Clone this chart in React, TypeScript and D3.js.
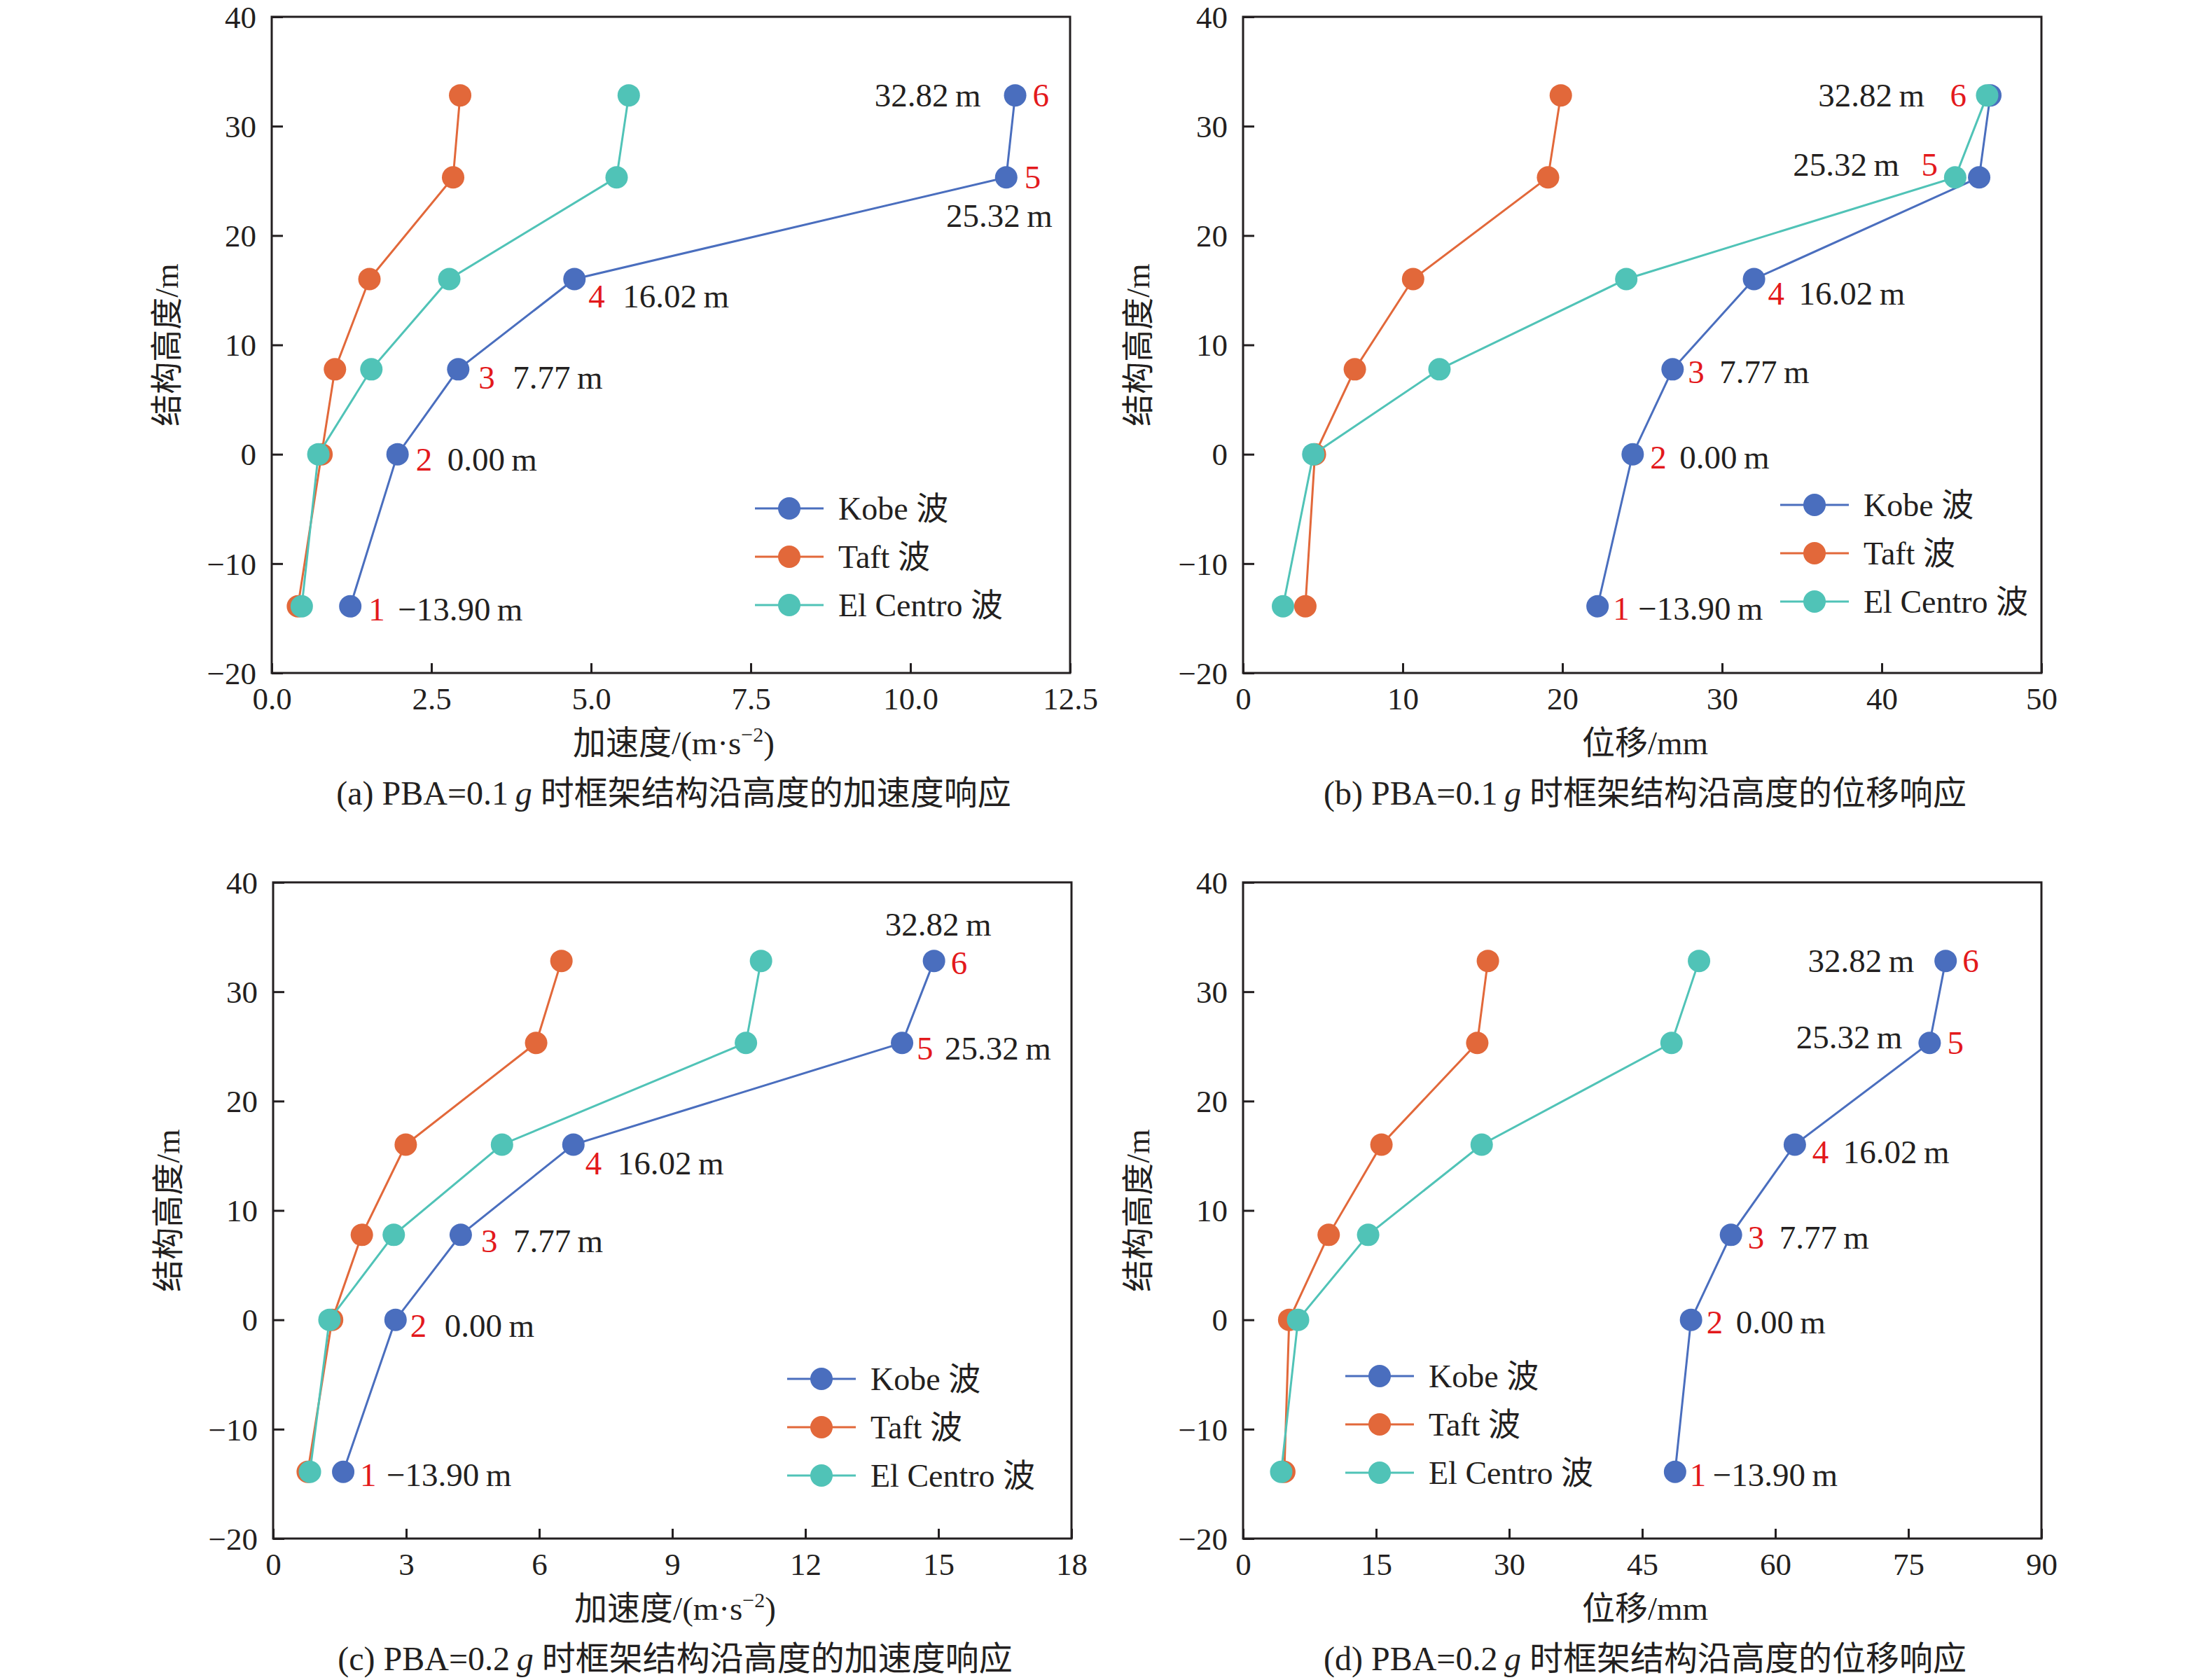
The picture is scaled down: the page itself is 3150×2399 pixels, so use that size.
import React, { useRef, useEffect } from 'react';
import * as d3 from 'd3';

// storey heights and labels
const heights = [-13.9, 0, 7.77, 16.02, 25.32, 32.82];
const heightLabels = ['−13.90\u2009m', '0.00\u2009m', '7.77\u2009m', '16.02\u2009m', '25.32\u2009m', '32.82\u2009m'];
const floorNumbers = ['1', '2', '3', '4', '5', '6'];
const seriesNames = ['Kobe 波', 'Taft 波', 'El Centro 波'];
const yTicks = [-20, -10, 0, 10, 20, 30, 40];

// (a) PBA=0.1g acceleration, m/s^2
const accel01Kobe = [1.23, 1.97, 2.92, 4.74, 11.5, 11.64];
const accel01Taft = [0.41, 0.78, 0.99, 1.53, 2.84, 2.95];
const accel01ElCentro = [0.47, 0.73, 1.56, 2.78, 5.4, 5.59];
// (b) PBA=0.1g displacement, mm
const disp01Kobe = [22.2, 24.4, 26.9, 32.0, 46.1, 46.8];
const disp01Taft = [3.9, 4.5, 7.0, 10.65, 19.1, 19.9];
const disp01ElCentro = [2.5, 4.4, 12.3, 24.0, 44.6, 46.6];
// (c) PBA=0.2g acceleration
const accel02Kobe = [1.58, 2.76, 4.23, 6.77, 14.18, 14.9];
const accel02Taft = [0.78, 1.33, 2.0, 2.99, 5.93, 6.5];
const accel02ElCentro = [0.83, 1.27, 2.72, 5.16, 10.66, 11.0];
// (d) PBA=0.2g displacement
const disp02Kobe = [48.7, 50.5, 55.0, 62.2, 77.4, 79.2];
const disp02Taft = [4.65, 5.2, 9.65, 15.6, 26.4, 27.6];
const disp02ElCentro = [4.3, 6.2, 14.1, 26.9, 48.3, 51.4];

const xTicksA = [0, 2.5, 5, 7.5, 10, 12.5];
const xTicksB = [0, 10, 20, 30, 40, 50];
const xTicksC = [0, 3, 6, 9, 12, 15, 18];
const xTicksD = [0, 15, 30, 45, 60, 75, 90];

const colors = ['#4A6EBE', '#E2683A', '#50C3B7'];
const RED = '#E3191C';
const INK = '#231F20';
const SERIF = '"Liberation Serif", "Times New Roman", "Noto Sans CJK SC", serif';

const W = 3150;
const H = 2399;
const PW = 1140;
const PH = 937;

type Ann = { n: [number, number, string]; l: [number, number, string] };

// label offsets (px) from each Kobe point: red number and height text
const annA: Ann[] = [
  { n: [26, 20, 'start'], l: [68, 20, 'start'] },
  { n: [26, 23, 'start'], l: [71, 23, 'start'] },
  { n: [29, 28, 'start'], l: [78, 28, 'start'] },
  { n: [20, 41, 'start'], l: [69, 41, 'start'] },
  { n: [26, 16, 'start'], l: [66, 71, 'end'] },
  { n: [25, 16, 'start'], l: [-49, 16, 'end'] },
];
const annB: Ann[] = [
  { n: [22, 19, 'start'], l: [58, 19, 'start'] },
  { n: [25, 20, 'start'], l: [67, 20, 'start'] },
  { n: [22, 20, 'start'], l: [67, 20, 'start'] },
  { n: [20, 37, 'start'], l: [64, 37, 'start'] },
  { n: [-59, -2, 'end'], l: [-114, -2, 'end'] },
  { n: [-34, 16, 'end'], l: [-94, 16, 'end'] },
];
const annC: Ann[] = [
  { n: [24, 20, 'start'], l: [62, 20, 'start'] },
  { n: [21, 24, 'start'], l: [70, 24, 'start'] },
  { n: [29, 25, 'start'], l: [75, 25, 'start'] },
  { n: [17, 43, 'start'], l: [63, 43, 'start'] },
  { n: [21, 24, 'start'], l: [61, 24, 'start'] },
  { n: [24, 19, 'start'], l: [6, -36, 'middle'] },
];
const annD: Ann[] = [
  { n: [21, 20, 'start'], l: [54, 20, 'start'] },
  { n: [22, 19, 'start'], l: [64, 19, 'start'] },
  { n: [24, 20, 'start'], l: [69, 20, 'start'] },
  { n: [25, 27, 'start'], l: [69, 27, 'start'] },
  { n: [25, 16, 'start'], l: [-39, 8, 'end'] },
  { n: [24, 16, 'start'], l: [-45, 16, 'end'] },
];

const panels = [
  {
    left: 388, top: 24, xMax: 12.5, xTicks: xTicksA, fmt: d3.format('.1f'), accel: true,
    series: [accel01Kobe, accel01Taft, accel01ElCentro], ann: annA,
    legend: [690, 702], tag: '(a)', pba: '0.1', tail: '时框架结构沿高度的加速度响应',
  },
  {
    left: 1775, top: 24, xMax: 50, xTicks: xTicksB, fmt: d3.format('d'), accel: false,
    series: [disp01Kobe, disp01Taft, disp01ElCentro], ann: annB,
    legend: [767, 697], tag: '(b)', pba: '0.1', tail: '时框架结构沿高度的位移响应',
  },
  {
    left: 390, top: 1260, xMax: 18, xTicks: xTicksC, fmt: d3.format('d'), accel: true,
    series: [accel02Kobe, accel02Taft, accel02ElCentro], ann: annC,
    legend: [734, 709], tag: '(c)', pba: '0.2', tail: '时框架结构沿高度的加速度响应',
  },
  {
    left: 1775, top: 1260, xMax: 90, xTicks: xTicksD, fmt: d3.format('d'), accel: false,
    series: [disp02Kobe, disp02Taft, disp02ElCentro], ann: annD,
    legend: [146, 705], tag: '(d)', pba: '0.2', tail: '时框架结构沿高度的位移响应',
  },
];

const App: React.FC = () => {
  const svgRef = useRef<SVGSVGElement | null>(null);

  useEffect(() => {
    if (!svgRef.current) return;
    const svg = d3.select(svgRef.current).attr('width', W).attr('height', H);
    svg.selectAll('*').remove();
    svg.append('rect').attr('width', W).attr('height', H).attr('fill', '#fff');

    panels.forEach((p) => {
      const x = d3.scaleLinear().domain([0, p.xMax]).range([p.left, p.left + PW]);
      const y = d3.scaleLinear().domain([-20, 40]).range([p.top + PH, p.top]);
      const g = svg.append('g');

      // axes with inward ticks
      const xAxis = d3.axisBottom(x).tickValues(p.xTicks).tickFormat((d) => p.fmt(d as number)).tickSize(-14).tickPadding(20);
      const gx = g.append('g').attr('transform', `translate(0, ${p.top + PH})`).call(xAxis);
      const yAxis = d3.axisLeft(y).tickValues(yTicks).tickSize(-16).tickPadding(22);
      const gy = g.append('g').attr('transform', `translate(${p.left}, 0)`).call(yAxis);
      [gx, gy].forEach((ax) => {
        ax.attr('font-family', SERIF).attr('font-size', 45);
        ax.select('.domain').remove();
        ax.selectAll('line').attr('stroke', INK).attr('stroke-width', 3);
        ax.selectAll('text').attr('fill', INK);
      });
      gx.selectAll('text').attr('dy', '0.71em');
      gy.selectAll('text').attr('dy', '0.34em');

      g.append('rect')
        .attr('x', p.left).attr('y', p.top).attr('width', PW).attr('height', PH)
        .attr('fill', 'none').attr('stroke', INK).attr('stroke-width', 3);

      // series
      const line = d3.line<number>().x((d) => x(d)).y((_, i) => y(heights[i]));
      p.series.forEach((vals, si) => {
        g.append('path').datum(vals).attr('d', line).attr('fill', 'none')
          .attr('stroke', colors[si]).attr('stroke-width', 3);
        g.selectAll(null).data(vals).enter().append('circle')
          .attr('cx', (d) => x(d)).attr('cy', (_, i) => y(heights[i]))
          .attr('r', 16).attr('fill', colors[si]);
      });

      // annotations on Kobe points
      const kobe = p.series[0];
      kobe.forEach((v, i) => {
        const cx = x(v);
        const cy = y(heights[i]);
        const a = p.ann[i];
        g.append('text').attr('x', cx + a.n[0]).attr('y', cy + a.n[1]).attr('text-anchor', a.n[2])
          .attr('font-family', SERIF).attr('font-size', 47).attr('fill', RED).text(floorNumbers[i]);
        g.append('text').attr('x', cx + a.l[0]).attr('y', cy + a.l[1]).attr('text-anchor', a.l[2])
          .attr('font-family', SERIF).attr('font-size', 47).attr('fill', INK).text(heightLabels[i]);
      });

      // legend
      const lx = p.left + p.legend[0];
      const ly = p.top + p.legend[1];
      seriesNames.forEach((name, si) => {
        const ry = ly + si * 69;
        g.append('line').attr('x1', lx).attr('x2', lx + 98).attr('y1', ry).attr('y2', ry)
          .attr('stroke', colors[si]).attr('stroke-width', 3);
        g.append('circle').attr('cx', lx + 49).attr('cy', ry).attr('r', 16).attr('fill', colors[si]);
        g.append('text').attr('x', lx + 119).attr('y', ry + 16)
          .attr('font-family', SERIF).attr('font-size', 46).attr('fill', INK).text(name);
      });

      // axis titles
      const midX = p.left + PW / 2;
      g.append('text').attr('transform', `translate(${p.left - 150}, ${p.top + PH / 2}) rotate(-90)`)
        .attr('text-anchor', 'middle').attr('dy', '0.35em')
        .attr('font-family', SERIF).attr('font-size', 46).attr('fill', INK).text('结构高度/m');
      const xt = g.append('text').attr('x', midX + 4).attr('y', p.top + PH + 116).attr('text-anchor', 'middle')
        .attr('font-family', SERIF).attr('font-size', 47).attr('fill', INK);
      if (p.accel) {
        xt.append('tspan').text('加速度/(m·s');
        xt.append('tspan').attr('dy', -18).attr('font-size', 30).text('−2');
        xt.append('tspan').attr('dy', 18).text(')');
      } else {
        xt.text('位移/mm');
      }

      // caption
      const cap = g.append('text').attr('x', midX + 4).attr('y', p.top + PH + 188).attr('text-anchor', 'middle')
        .attr('font-family', SERIF).attr('font-size', 48).attr('fill', INK);
      cap.append('tspan').text(`${p.tag} PBA=${p.pba}\u2009`);
      cap.append('tspan').attr('font-style', 'italic').text('g');
      cap.append('tspan').text(` ${p.tail}`);
    });
  }, []);

  return <svg ref={svgRef} width={W} height={H} style={{ position: 'absolute', left: 0, top: 0 }} />;
};

export default App;
